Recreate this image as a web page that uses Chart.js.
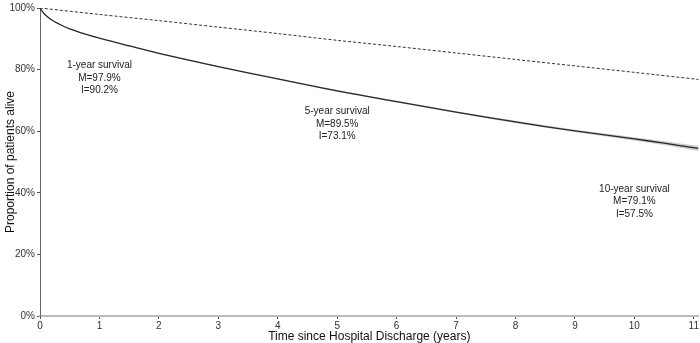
<!DOCTYPE html>
<html>
<head>
<meta charset="utf-8">
<script src="https://cdn.jsdelivr.net/npm/chart.js@4"></script>
<style>
  html, body { margin: 0; padding: 0; background: #fff; }
  #wrap { width: 700px; height: 343px; }
</style>
</head>
<body>
<div id="wrap"><canvas id="chartSurvival"></canvas></div>
<script>
// years since discharge
var years = [0, 0.05, 0.1, 0.2, 0.3, 0.5, 0.75, 1, 1.5, 2, 3, 4, 5, 6, 7, 8, 9, 10, 10.5, 11.08];
// index patients (I), solid line
var indexSurv = [100, 98.6, 97.6, 96.1, 95.0, 93.2, 91.6, 90.2, 87.7, 85.3, 81.0, 77.0, 73.1, 69.6, 66.2, 63.0, 60.1, 57.5, 56.1, 54.4];
var indexLow  = [100, 98.5, 97.5, 96.0, 94.9, 93.1, 91.5, 90.1, 87.6, 85.1, 80.8, 76.8, 72.8, 69.3, 65.9, 62.6, 59.7, 57.0, 55.5, 53.6];
var indexHigh = [100, 98.7, 97.7, 96.2, 95.1, 93.3, 91.7, 90.3, 87.9, 85.5, 81.2, 77.2, 73.4, 69.9, 66.5, 63.4, 60.5, 58.0, 56.7, 55.2];
// matched population (M), dashed line
var matchYears = [0, 1, 2, 3, 4, 5, 6, 7, 8, 9, 10, 11.08];
var matchSurv  = [100, 97.9, 95.9, 93.8, 91.7, 89.5, 87.5, 85.4, 83.3, 81.2, 79.1, 76.8];

var xTicks = [0, 1, 2, 3, 4, 5, 6, 7, 8, 9, 10, 11];
var yTicks = [0, 20, 40, 60, 80, 100];

// annotations: x (years), y of first line (%)
var noteX = [1, 5, 10];
var noteY = [81.4, 66.4, 41.3];
var noteText = [
  ['1-year survival', 'M=97.9%', 'I=90.2%'],
  ['5-year survival', 'M=89.5%', 'I=73.1%'],
  ['10-year survival', 'M=79.1%', 'I=57.5%']
];

function pts(xs, ys) {
  return xs.map(function (x, i) { return { x: x, y: ys[i] }; });
}

var notesPlugin = {
  id: 'notes',
  afterDatasetsDraw: function (chart) {
    var ctx = chart.ctx;
    var xs = chart.scales.x, ys = chart.scales.y;
    ctx.save();
    ctx.font = '10px "Liberation Sans", Arial, sans-serif';
    ctx.fillStyle = '#222';
    ctx.textAlign = 'center';
    ctx.textBaseline = 'middle';
    noteText.forEach(function (lines, i) {
      var px = xs.getPixelForValue(noteX[i]);
      var py = ys.getPixelForValue(noteY[i]);
      lines.forEach(function (t, j) {
        ctx.fillText(t, px, py + j * 12.5);
      });
    });
    ctx.restore();
  }
};

var ctx = document.getElementById('chartSurvival').getContext('2d');
new Chart(ctx, {
  type: 'line',
  data: {
    datasets: [
      {
        data: pts(years, indexHigh),
        borderWidth: 0,
        pointRadius: 0,
        fill: false,
        order: 3
      },
      {
        data: pts(years, indexLow),
        borderWidth: 0,
        pointRadius: 0,
        backgroundColor: 'rgba(170,170,170,0.6)',
        fill: '-1',
        order: 2
      },
      {
        data: pts(years, indexSurv),
        borderColor: '#2a2a2a',
        borderWidth: 1.3,
        pointRadius: 0,
        tension: 0.4,
        fill: false,
        order: 0
      },
      {
        data: pts(matchYears, matchSurv),
        borderColor: '#333',
        borderWidth: 1,
        borderDash: [3, 2],
        pointRadius: 0,
        tension: 0.3,
        fill: false,
        order: 1
      }
    ]
  },
  options: {
    responsive: true,
    maintainAspectRatio: false,
    animation: false,
    layout: { padding: { top: 3, right: 0, left: 0, bottom: 0 } },
    plugins: { legend: { display: false }, tooltip: { enabled: false } },
    scales: {
      x: {
        type: 'linear',
        min: 0,
        max: 11.08,
        afterBuildTicks: function (s) { s.ticks = xTicks.map(function (v) { return { value: v }; }); },
        afterFit: function (s) { s.height = 27; },
        grid: { drawOnChartArea: false, tickLength: 3, color: '#555' },
        border: { color: '#bbb', width: 2 },
        ticks: { color: '#333', font: { size: 10, family: '"Liberation Sans", Arial' }, padding: 1, maxRotation: 0 },
        title: {
          display: true,
          text: 'Time since Hospital Discharge (years)',
          color: '#111',
          font: { size: 12, family: '"Liberation Sans", Arial', lineHeight: 1.1 },
          padding: { top: 0, bottom: 0 }
        }
      },
      y: {
        min: 0,
        max: 100,
        afterBuildTicks: function (s) { s.ticks = yTicks.map(function (v) { return { value: v }; }); },
        afterFit: function (s) { s.width = 40; },
        grid: { drawOnChartArea: false, tickLength: 3, color: '#555' },
        border: { color: '#666', width: 1 },
        ticks: {
          color: '#333',
          font: { size: 10, family: '"Liberation Sans", Arial' },
          padding: 2,
          callback: function (v) { return v + '%'; }
        },
        title: {
          display: true,
          text: 'Proportion of patients alive',
          color: '#111',
          font: { size: 12, family: '"Liberation Sans", Arial' },
          padding: { top: 3, bottom: 0 }
        }
      }
    }
  },
  plugins: [notesPlugin]
});
</script>
</body>
</html>
